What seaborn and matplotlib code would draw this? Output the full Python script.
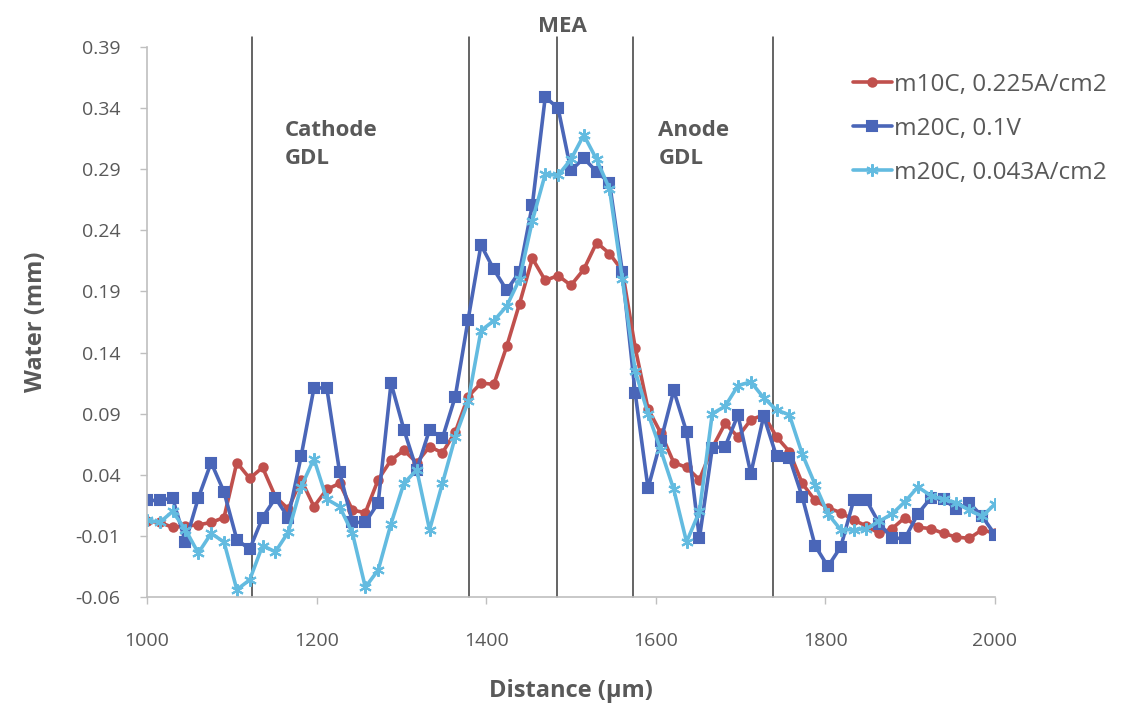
import numpy as np
import pandas as pd
import matplotlib
matplotlib.use("Agg")
import matplotlib.pyplot as plt
import seaborn as sns

# ---------------- data ----------------
distance = np.linspace(1000, 2000, 67)

m10c_0225 = [0.002, 0.001, -0.003, -0.002, -0.001, 0.001, 0.005, 0.050, 0.037, 0.046, 0.022, 0.012, 0.036,
             0.014, 0.028, 0.033, 0.011, 0.009, 0.036, 0.052, 0.060, 0.050, 0.063, 0.058, 0.075, 0.104,
             0.115, 0.114, 0.145, 0.180, 0.217, 0.199, 0.203, 0.195, 0.208, 0.230, 0.221, 0.207,
             0.144, 0.094, 0.074, 0.050, 0.046, 0.036, 0.062, 0.082, 0.071, 0.085, 0.089, 0.071, 0.059, 0.033, 0.019,
             0.013, 0.009, 0.003, -0.002, -0.008, -0.004, 0.005, -0.003, -0.004, -0.008, -0.011, -0.012, -0.005, -0.008]

m20c_01v = [0.019, 0.019, 0.021, -0.015, 0.021, 0.050, 0.026, -0.013, -0.021, 0.005, 0.021, 0.005, 0.055,
            0.111, 0.111, 0.042, 0.001, 0.001, 0.017, 0.115, 0.077, 0.044, 0.077, 0.070, 0.104, 0.167,
            0.228, 0.208, 0.191, 0.206, 0.261, 0.349, 0.340, 0.289, 0.299, 0.288, 0.279, 0.206,
            0.107, 0.029, 0.068, 0.109, 0.075, -0.012, 0.062, 0.063, 0.089, 0.041, 0.088, 0.055, 0.054, 0.022, -0.018,
            -0.035, -0.019, 0.019, 0.019, 0.000, -0.012, -0.012, 0.008, 0.021, 0.020, 0.012, 0.017, 0.006, -0.009]

m20c_0043 = [0.003, 0.001, 0.010, -0.005, -0.024, -0.008, -0.015, -0.054, -0.046, -0.018, -0.023, -0.007, 0.030,
             0.053, 0.020, 0.014, -0.008, -0.052, -0.038, 0.000, 0.033, 0.044, -0.005, 0.033, 0.071, 0.100,
             0.158, 0.166, 0.178, 0.200, 0.248, 0.286, 0.285, 0.298, 0.318, 0.298, 0.274, 0.200,
             0.125, 0.090, 0.060, 0.028, -0.015, 0.010, 0.090, 0.096, 0.113, 0.116, 0.103, 0.093, 0.089, 0.057, 0.032,
             0.008, -0.005, -0.005, -0.004, 0.002, 0.008, 0.018, 0.030, 0.023, 0.020, 0.017, 0.011, 0.006, 0.016]

series_names = ["m10C, 0.225A/cm2", "m20C, 0.1V", "m20C, 0.043A/cm2"]
yticks = [-0.06, -0.01, 0.04, 0.09, 0.14, 0.19, 0.24, 0.29, 0.34, 0.39]
ytick_labels = ["-0.06", "-0.01", "0.04", "0.09", "0.14", "0.19", "0.24", "0.29", "0.34", "0.39"]
xticks = [1000, 1200, 1400, 1600, 1800, 2000]
xtick_labels = ["1000", "1200", "1400", "1600", "1800", "2000"]
boundaries = [1124, 1380, 1484, 1573, 1738]
region_labels = ["Cathode\nGDL", "MEA", "Anode\nGDL"]
xlabel = "Distance (\u00b5m)"
ylabel = "Water (mm)"

# ---------------- style ----------------
sns.set_theme(style="white")
plt.rcParams['font.family'] = ['Open Sans', 'DejaVu Sans']

TXT = '#595959'
AX = '#BFBFBF'

fig = plt.figure(figsize=(11.3, 7.09), dpi=100)
ax = fig.add_axes([0.130, 0.158, 0.7505, 0.7757])

df = pd.DataFrame({
    "distance": np.tile(distance, 3),
    "water": np.concatenate([m10c_0225, m20c_01v, m20c_0043]),
    "series": np.repeat(series_names, len(distance)),
})

colors = ['#C0504D', '#4A66B8', '#63BBE0']
markers = ['o', 's', (6, 2, 0)]
msizes = [6, 7, 9]

for name, c, m, ms in zip(series_names, colors, markers, msizes):
    sub = df[df["series"] == name]
    sns.lineplot(data=sub, x="distance", y="water", ax=ax, color=c, marker=m,
                 markersize=ms, markeredgecolor=c, markeredgewidth=1.5,
                 linewidth=2.6, label=name, estimator=None, sort=False)

ax.set_xlim(1000, 2000)
ax.set_ylim(-0.06, 0.39)

# region boundary lines
for b in boundaries:
    ax.plot([b, b], [-0.06, 0.398], color='#3a3a3a', lw=1.1, zorder=1, clip_on=False)

ax.set_xticks(xticks)
ax.set_xticklabels(xtick_labels)
ax.set_yticks(yticks)
ax.set_yticklabels(ytick_labels)
ax.tick_params(axis='both', which='major', direction='out', length=5, width=1,
               color=AX, labelcolor=TXT, labelsize=14)
ax.tick_params(axis='y', pad=14)
ax.tick_params(axis='x', pad=20)
ax.xaxis.set_ticks_position('bottom')
ax.yaxis.set_ticks_position('left')

for s in ['top', 'right']:
    ax.spines[s].set_visible(False)
for s in ['left', 'bottom']:
    ax.spines[s].set_color(AX)
    ax.spines[s].set_linewidth(1.2)

ax.set_xlabel(xlabel, fontsize=17, fontweight='bold', color=TXT, labelpad=21)
ax.set_ylabel(ylabel, fontsize=17, fontweight='bold', color=TXT, labelpad=20)

# region labels
ax.text(1162, 0.31, region_labels[0], ha='left', va='center', fontsize=16,
        fontweight='bold', color=TXT, linespacing=1.45)
ax.text(1490, 0.407, region_labels[1], ha='center', va='center', fontsize=16,
        fontweight='bold', color=TXT)
ax.text(1603, 0.31, region_labels[2], ha='left', va='center', fontsize=16,
        fontweight='bold', color=TXT, linespacing=1.45)

leg = ax.legend(loc='upper left', bbox_to_anchor=(853 / 1130, 1 - 73 / 709),
                bbox_transform=fig.transFigure, frameon=False, fontsize=17.5,
                handlelength=1.6, handletextpad=0.1, labelspacing=0.82,
                borderpad=0, borderaxespad=0,
                numpoints=1, labelcolor=TXT)

fig.savefig("out.png", dpi=100, facecolor='white')
